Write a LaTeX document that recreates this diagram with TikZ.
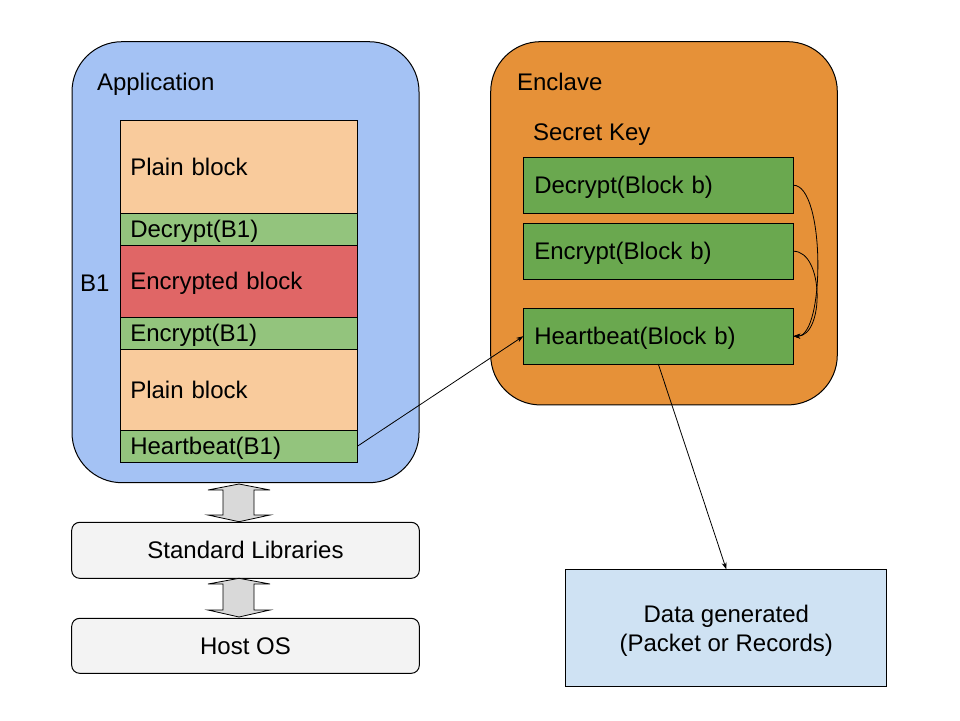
\documentclass[tikz,border=0pt]{standalone}
\usepackage{fontspec}
\setmainfont{Liberation Sans}
\usetikzlibrary{arrows.meta}
\definecolor{appblue}{HTML}{A4C2F4}
\definecolor{enclaveorange}{HTML}{E69138}
\definecolor{plainpeach}{HTML}{F9CB9C}
\definecolor{lightgreen}{HTML}{93C47D}
\definecolor{encred}{HTML}{E06666}
\definecolor{darkgreen}{HTML}{6AA84F}
\definecolor{datablue}{HTML}{CFE2F3}
\definecolor{libgray}{HTML}{F3F3F3}
\definecolor{arrowgray}{HTML}{D9D9D9}
\begin{document}
\begin{tikzpicture}[x=1pt,y=-1pt,
  every node/.style={font=\fontsize{24}{29}\selectfont, inner sep=0pt, outer sep=0pt},
  fixedline/.style={text height=21.7pt, text depth=5.1pt},
  container/.style={draw=black, line width=1pt, rounded corners=50pt, minimum width=347pt},
  appblock/.style={fixedline, draw=black, line width=1pt, minimum width=237pt, text width=217pt, inner xsep=10pt, align=left},
  encblock/.style={fixedline, draw=black, line width=1pt, fill=darkgreen, minimum width=270pt, minimum height=55.7pt, text width=248pt, inner xsep=11pt, align=left},
  layerbox/.style={fixedline, draw=black, line width=1pt, fill=libgray, rounded corners=8pt, minimum width=347.6pt, align=center},
  label/.style={fixedline, anchor=west},
  conn/.style={draw=black, line width=0.8pt, -{Stealth[length=7pt,width=5pt]}},
  dblarrow/.style={draw=black, line width=0.8pt, fill=arrowgray}
]
\useasboundingbox (0,0) rectangle (960,720);
% containers
\node[container, fill=appblue, minimum height=441pt] (app) at (245.5,262.2) {};
\node[container, fill=enclaveorange, minimum width=346.6pt, minimum height=363.3pt] (enclave) at (664,223.3) {};
\node[label] (applabel) at (97,82) {Application};
\node[label] (enclavelabel) at (517,82) {Enclave};
\node[label] (secretkey) at (533,132) {Secret Key};
\node[label] (blabel) at (80,283) {B1};
% application blocks
\node[appblock, fill=plainpeach, minimum height=93pt] (plain1) at (238.8,166.8) {Plain block};
\node[appblock, fill=lightgreen, minimum height=32pt] (dec1) at (238.8,229.3) {Decrypt(B1)};
\node[appblock, fill=encred, minimum height=72pt] (encblk) at (238.8,281.3) {Encrypted block};
\node[appblock, fill=lightgreen, minimum height=32pt] (encr1) at (238.8,333.3) {Encrypt(B1)};
\node[appblock, fill=plainpeach, minimum height=81pt] (plain2) at (238.8,389.8) {Plain block};
\node[appblock, fill=lightgreen, minimum height=32pt] (hb1) at (238.8,446.3) {Heartbeat(B1)};
% enclave blocks
\node[encblock] (decB) at (658.3,185.2) {Decrypt(Block b)};
\node[encblock] (encB) at (658.3,251.2) {Encrypt(Block b)};
\node[encblock] (hbB) at (658.3,336.2) {Heartbeat(Block b)};
% lower layers
\node[layerbox, minimum height=56pt] (stdlib) at (245.5,550.3) {Standard Libraries};
\node[layerbox, minimum height=55pt] (hostos) at (245.5,645.8) {Host OS};
\node[draw=black, line width=1pt, fill=datablue, minimum width=320.7pt, minimum height=117.4pt] (data) at (726.3,628) {};
\node[align=center] (datatext) at ([yshift=-3pt]data.center) {Data generated\\(Packet or Records)};
% double arrows
\path[dblarrow] (239,484) -- (270,490) -- (254,490) -- (254,515) -- (270,515) -- (239,521.7) -- (208,515) -- (223,515) -- (223,490) -- (208,490) -- cycle;
\path[dblarrow] (239,578.3) -- (270,584) -- (254,584) -- (254,610) -- (270,610) -- (239,617) -- (208,610) -- (223,610) -- (223,584) -- (208,584) -- cycle;
% connectors
\draw[conn] (hb1.east) -- (hbB.west);
\draw[conn] (hbB.south) -- (data.north);
\draw[conn] (decB.east) .. controls ([xshift=32pt]decB.east) and ([xshift=32pt]hbB.east) .. (hbB.east);
\draw[conn] (encB.east) .. controls ([xshift=31pt]encB.east) and ([xshift=31pt]hbB.east) .. (hbB.east);
\end{tikzpicture}
\end{document}
